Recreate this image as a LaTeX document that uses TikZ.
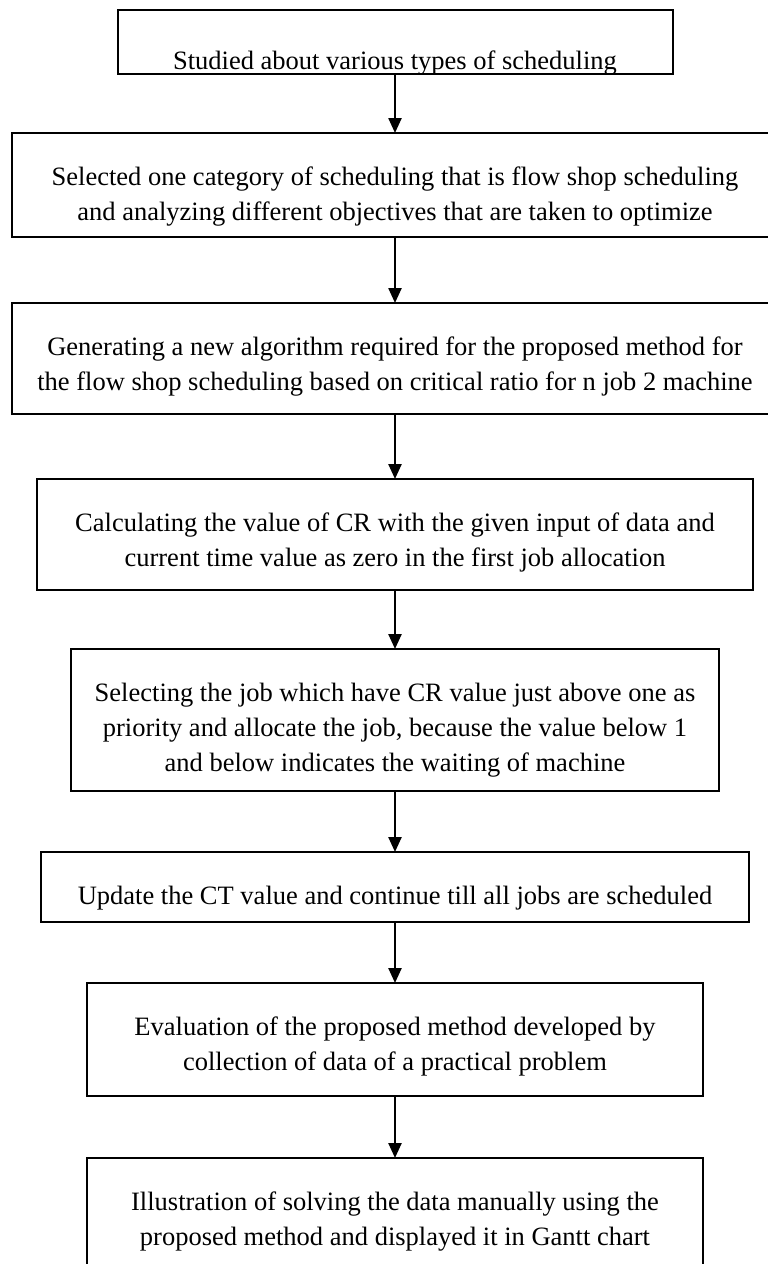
\documentclass[tikz,border=0pt]{standalone}
\usepackage{fontspec}
\setmainfont{Liberation Serif}
\usepackage{xcolor}
\usetikzlibrary{arrows.meta,positioning}
\definecolor{Ink}{HTML}{000000}
\tikzset{
  box/.style={draw=Ink,line width=1pt,fill=white,align=center,inner xsep=0pt,inner ysep=0pt,outer sep=0pt,font=\fontsize{13.25}{17.5}\selectfont,text=Ink},
  pad/.style 2 args={text height=#1,text depth=#2},
  arr/.style={-{Triangle[length=7.5pt,width=6.5pt]},draw=Ink,line width=1.2pt}
}

\begin{document}
\begin{tikzpicture}[x=0.5pt,y=-0.5pt,node distance=30.5pt]
  \useasboundingbox (0,0) rectangle (767,1264);
  \node[box,minimum width=277.5pt,minimum height=32pt,pad={29.5pt}{2.5pt}] (study) at (395,42) {Studied about various types of scheduling};
  \node[box,minimum width=383pt,minimum height=52pt,pad={43.5pt}{8.5pt},below=29.5pt of study] (select) {Selected one category of scheduling that is flow shop scheduling\\and analyzing different objectives that are taken to optimize};
  \node[box,minimum width=383pt,minimum height=55.5pt,pad={43.5pt}{12pt},below=33pt of select] (algo) {Generating a new algorithm required for the proposed method for\\the flow shop scheduling based on critical ratio for n job 2 machine};
  \node[box,minimum width=358pt,minimum height=55.5pt,pad={43.5pt}{12pt},below=32.5pt of algo] (calc) {Calculating the value of CR with the given input of data and\\current time value as zero in the first job allocation};
  \node[box,minimum width=324pt,minimum height=71pt,pad={61pt}{10pt},below=29.5pt of calc] (pick) {Selecting the job which have CR value just above one as\\priority and allocate the job, because the value below 1\\and below indicates the waiting of machine};
  \node[box,minimum width=354pt,minimum height=35pt,pad={26pt}{9pt},below=of pick] (update) {Update the CT value and continue till all jobs are scheduled};
  \node[box,minimum width=308pt,minimum height=56.5pt,pad={43.5pt}{13pt},below=of update] (eval) {Evaluation of the proposed method developed by\\collection of data of a practical problem};
  \node[box,minimum width=308pt,minimum height=56.5pt,pad={43.5pt}{13pt},below=31pt of eval] (gantt) {Illustration of solving the data manually using the\\proposed method and displayed it in Gantt chart};
  \draw[arr] (study) -- (select);
  \draw[arr] (select) -- (algo);
  \draw[arr] (algo) -- (calc);
  \draw[arr] (calc) -- (pick);
  \draw[arr] (pick) -- (update);
  \draw[arr] (update) -- (eval);
  \draw[arr] (eval) -- (gantt);
\end{tikzpicture}
\end{document}
